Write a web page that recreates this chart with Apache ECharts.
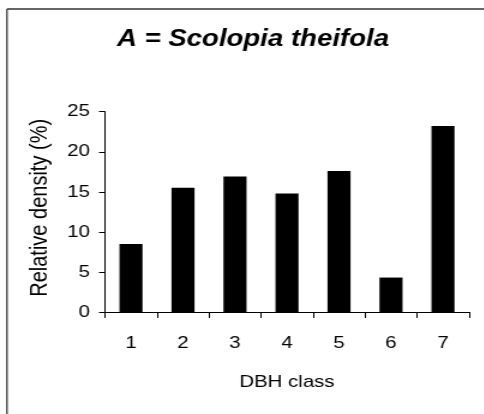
<!DOCTYPE html>
<html><head><meta charset="utf-8">
<script src="https://cdn.jsdelivr.net/npm/echarts@6/dist/echarts.min.js"></script>
<style>html,body{margin:0;padding:0;background:#fff;overflow:hidden}
#wrap{width:484px;height:414px;overflow:hidden}
#c{width:403.333px;height:414px;transform:scaleX(1.2);transform-origin:0 0}</style>
</head><body><div id="wrap"><div id="c"></div></div>
<script>
const titleText = "A = Scolopia theifola";
const categories = ["1","2","3","4","5","6","7"];
const relDensity = [8.5, 15.5, 16.9, 14.8, 17.6, 4.3, 23.2];
const yTicks = {min: 0, max: 25, interval: 5};
const xName = "DBH class";
const yName = "Relative density (%)";

const chart = echarts.init(document.getElementById('c'), null, {renderer:'canvas', width: 403.333, height: 414});
const font = "'Liberation Sans', Arial, sans-serif";
chart.setOption({
  animation: false,
  backgroundColor: '#fff',
  title: {
    text: titleText, left: 205.8, top: 23, textAlign: 'center',
    textStyle: {fontFamily: font, fontSize: 23, fontWeight: 'bold', fontStyle: 'italic', color: '#000'}
  },
  graphic: [
    {type: 'line', shape: {x1: 5.8, y1: 9, x2: 410, y2: 9}, style: {stroke: '#333', lineWidth: 1.5}},
    {type: 'line', shape: {x1: 5.8, y1: 9, x2: 5.8, y2: 420}, style: {stroke: '#333', lineWidth: 1.3}}
  ],
  grid: {left: 87.5, right: 12.5, top: 111.7, bottom: 102, containLabel: false},
  xAxis: {
    type: 'category', data: categories,
    name: xName, nameLocation: 'middle', nameGap: 62,
    nameTextStyle: {fontFamily: font, fontSize: 17, color: '#000'},
    axisLine: {lineStyle: {color: '#000', width: 1}},
    axisTick: {show: true, length: 6, lineStyle: {color: '#000'}, alignWithLabel: false},
    axisLabel: {fontFamily: font, fontSize: 17, color: '#000', margin: 23}
  },
  yAxis: {
    type: 'value', min: yTicks.min, max: yTicks.max, interval: yTicks.interval,
    name: yName, nameLocation: 'middle', nameGap: 44,
    nameTextStyle: {fontFamily: font, fontSize: 20, color: '#000', padding: [0, 0, 0, 8]},
    splitLine: {show: false},
    axisLine: {show: true, lineStyle: {color: '#000', width: 1}},
    axisTick: {show: true, length: 5, lineStyle: {color: '#000'}},
    axisLabel: {fontFamily: font, fontSize: 17, color: '#000', margin: 12.5}
  },
  series: [{
    type: 'bar', data: relDensity, barWidth: 19.2,
    itemStyle: {color: '#000'}
  }]
});
</script></body></html>
